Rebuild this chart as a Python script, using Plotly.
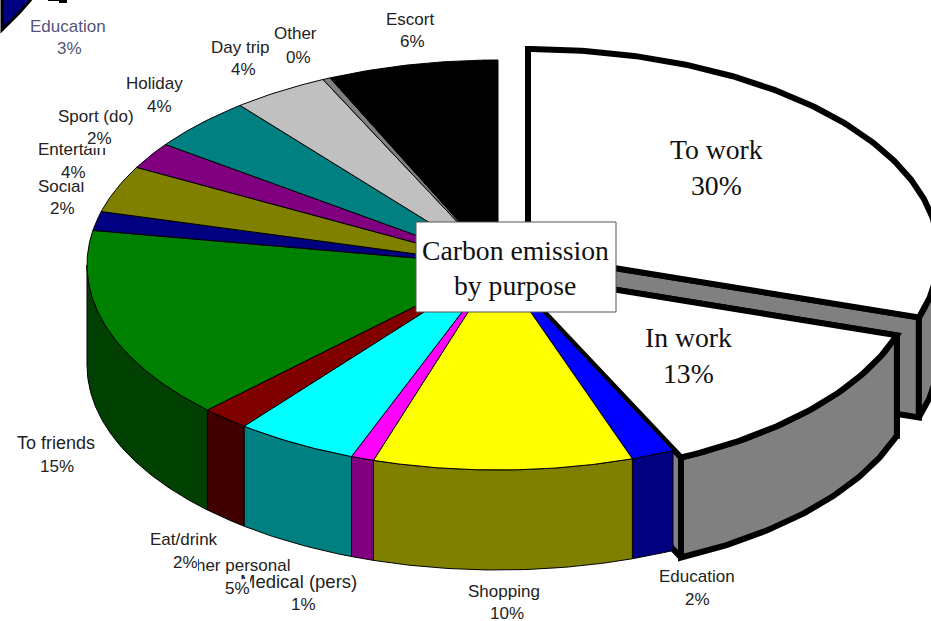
import numpy as np
import plotly.graph_objects as go

# ---- data ----
categories = ["To work", "In work", "Education", "Shopping", "Medical (pers)", "Other personal",
              "Eat/drink", "To friends", "Social", "Entertain", "Sport (do)", "Holiday",
              "Day trip", "Other", "Escort"]
values = [30.0, 13.0, 1.7, 10.2, 0.9, 4.8, 1.9, 15.2, 1.5, 3.7, 2.1, 4.2, 3.8, 0.3, 6.7]
pct_labels = ["30%", "13%", "2%", "10%", "1%", "5%", "2%", "15%", "2%", "4%", "2%", "4%", "4%", "0%", "6%"]

# ---- styles ----
top_colors = ["#FFFFFF", "#FFFFFF", "#0000FF", "#FFFF00", "#FF00FF", "#00FFFF", "#800000", "#008000",
              "#000080", "#808000", "#800080", "#008080", "#C0C0C0", "#808080", "#000000"]
wall_colors = ["#808080", "#808080", "#000080", "#808000", "#800080", "#008080", "#400000", "#004000",
               "#000040", "#404000", "#400040", "#004040", "#606060", "#404040", "#000000"]

W, H = 931, 621
CX, CY, A, B, DEPTH = 498, 265, 411, 205, 100
OFFSETS = {0: (30, -11), 1: (8, 7)}
THICK = 6

fracs = np.cumsum([0] + values) / sum(values) * 360.0


def rim(t1, t2, cx, cy, dy=0):
    t = np.radians(np.linspace(t1, t2, max(2, int(abs(t2 - t1) * 2) + 2)))
    return cx + A * np.sin(t), cy - B * np.cos(t) + dy


fig = go.Figure()


def poly(x, y, fill, lw, name):
    fig.add_trace(go.Scatter(x=list(x) + [x[0]], y=list(y) + [y[0]], mode="lines", fill="toself",
                             fillcolor=fill, line=dict(color="#000000", width=lw),
                             hoverinfo="skip", showlegend=False, name=name))


def wall(i, cx, cy, lw):
    t1, t2 = max(fracs[i], 90), min(fracs[i + 1], 270)
    if t2 <= t1:
        return
    x, y = rim(t1, t2, cx, cy)
    xb, yb = rim(t2, t1, cx, cy, DEPTH)
    poly(np.r_[x, xb], np.r_[y, yb], wall_colors[i], lw, categories[i] + " wall")


def cut(t, cx, cy, fill, lw, name):
    x, y = rim(t, t, cx, cy)
    poly([cx, x[0], x[0], cx], [cy, y[0], y[0] + DEPTH, cy + DEPTH], fill, lw, name)


def top(i, cx, cy, lw):
    x, y = rim(fracs[i], fracs[i + 1], cx, cy)
    poly(np.r_[cx, x], np.r_[cy, y], top_colors[i], lw, categories[i])


# exploded slices, thick outline
for i in (0, 1):
    cx, cy = CX + OFFSETS[i][0], CY + OFFSETS[i][1]
    cut(fracs[i + 1], cx, cy, wall_colors[i], THICK, categories[i] + " cut")
    if i == 1:
        cut(fracs[i], cx, cy, wall_colors[i], THICK, categories[i] + " cut2")
    wall(i, cx, cy, THICK)
    top(i, cx, cy, THICK)

# rest of the pie
for i in range(2, len(values)):
    wall(i, CX, CY, 1)
for i in range(2, len(values)):
    top(i, CX, CY, 1)

# ---- outside labels (one white-backed box per line; later ones overlap earlier ones) ----
label_font = dict(family="Liberation Sans", size=17, color="#222222")
label_pos = {
    2: ((697, 576), (697, 599)),
    3: ((504, 591), (507, 613)),
    4: ((298, 581), (303, 604)),
    5: ((234, 565), (237, 588)),
    6: ((184, 539), (185, 562)),
    7: ((56, 443), (57, 466)),
    8: ((61, 186), (62, 208)),
    9: ((72, 149), (73, 172)),
    10: ((96, 116), (99, 138)),
    11: ((154, 83), (159, 106)),
    12: ((240, 47), (243, 69)),
    13: ((295, 33), (298, 57)),
    14: ((410, 19), (412, 41)),
}
label_font_overrides = {4: dict(label_font, size=18.5), 7: dict(label_font, size=18)}

annotations = []


def note(text, xy, font, bg=None):
    annotations.append(dict(x=xy[0], y=xy[1], xref="x", yref="y", text=text, showarrow=False,
                            font=font, bgcolor=bg, borderpad=0, borderwidth=0,
                            xanchor="center", yanchor="middle"))


for i, (p1, p2) in label_pos.items():
    note(categories[i], p1, label_font_overrides.get(i, label_font), "#FFFFFF")
    note(pct_labels[i], p2, label_font, "#FFFFFF")

# stray duplicate label in the corner
stray_font = dict(family="Liberation Sans", size=17, color="#555577")
note("Education", (68, 26), stray_font)
note("3%", (69, 48), stray_font)

# inside labels
serif = dict(family="Liberation Serif", size=27.7, color="#111111")
note(categories[0], (716, 149), serif)
note(pct_labels[0], (716, 185), serif)
note(categories[1], (688, 337), serif)
note(pct_labels[1], (688, 373), serif)
note("Carbon emission", (515, 250), serif)
note("by purpose", (515, 285), serif)

fig.update_layout(
    width=W, height=H, autosize=False,
    margin=dict(l=0, r=0, t=0, b=0),
    paper_bgcolor="#FFFFFF", plot_bgcolor="#FFFFFF",
    showlegend=False,
    xaxis=dict(range=[0, W], visible=False, fixedrange=True),
    yaxis=dict(range=[H, 0], visible=False, fixedrange=True),
    annotations=annotations,
    shapes=[
        dict(type="rect", xref="x", yref="y", x0=416, x1=616, y0=222, y1=312,
             fillcolor="#FFFFFF", line=dict(color="#555555", width=1), layer="above"),
        # stray fragments in the top-left corner of the source image
        dict(type="path", xref="x", yref="y", path="M 2 -3 L 33 -3 L 20 12 L 10 22 L 2 30 Z",
             fillcolor="#000080", line=dict(color="#000000", width=3), layer="above"),
        dict(type="rect", xref="x", yref="y", x0=48, x1=67, y0=-2, y1=1,
             fillcolor="#000000", line=dict(width=0), layer="above"),
        dict(type="rect", xref="x", yref="y", x0=59, x1=67, y0=-2, y1=3,
             fillcolor="#000000", line=dict(width=0), layer="above"),
    ],
)
fig.write_html("out.html", post_script="document.body.style.margin='0';document.body.style.overflow='hidden';",
               config={"displayModeBar": False})
